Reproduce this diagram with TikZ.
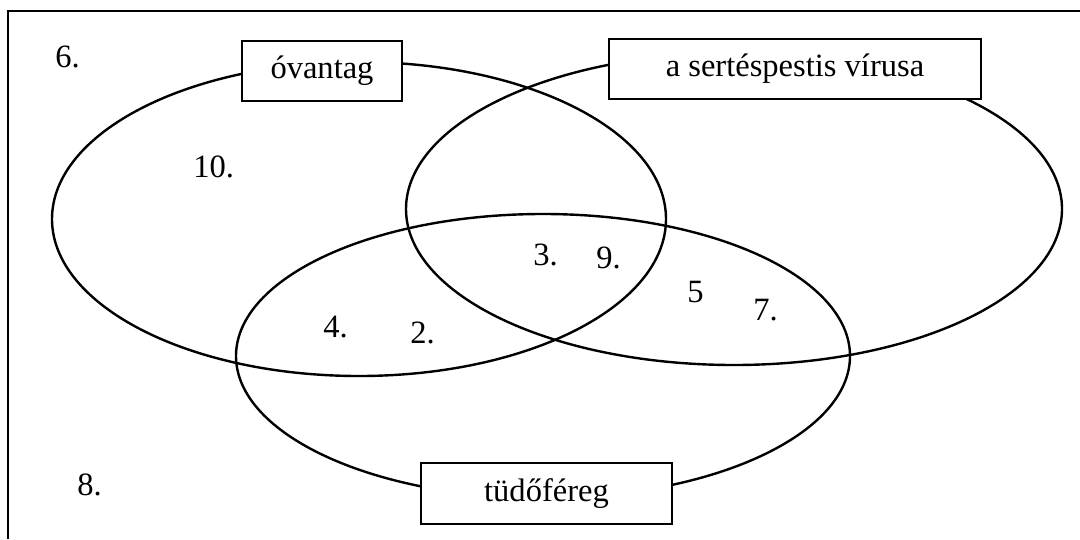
\documentclass[tikz,border=0pt]{standalone}
\usepackage{fontspec}
\setmainfont{Liberation Serif}
\begin{document}
\begin{tikzpicture}[x=0.75pt,y=-0.75pt,
		setline/.style={line width=1.8pt},
		namebox/.style={draw,line width=1.6pt,fill=white,inner sep=0pt,
			font=\fontsize{24.4}{29}\selectfont},
		num/.style={inner sep=0pt,anchor=base west,
			font=\fontsize{24.4}{29}\selectfont}]
			\useasboundingbox (0,0) rectangle (1080,539);
			% frame, cut at right and bottom
			\draw[line width=1.9pt] (8,539) -- (8,11) -- (1080,11);
			% the three sets
			\draw[setline] (359,219) ellipse [x radius=307, y radius=157];
			\draw[setline] (734,209) ellipse [x radius=328, y radius=156];
			\draw[setline] (543,356) ellipse [x radius=307, y radius=142];
			% set names (sizes in pt: 0.75pt per px)
			\node[namebox,minimum width=120pt,minimum height=45pt] (ovantag) at (322,71) {óvantag};
			\node[namebox,minimum width=279pt,minimum height=45pt] (virus) at (795,69) {a sertéspestis vírusa};
			\node[namebox,minimum width=188pt,minimum height=46pt] (tudofereg) at (546.5,493.5) {tüdőféreg};
			% numbers
			\node[num] (n6) at (55,67) {6.};
			\node[num] (n10) at (193,177) {10.};
			\node[num] (n3) at (533,265) {3.};
			\node[num] (n9) at (596,268) {9.};
			\node[num] (n5) at (687,302) {5};
			\node[num] (n7) at (753,320) {7.};
			\node[num] (n4) at (323,337) {4.};
			\node[num] (n2) at (410,343) {2.};
			\node[num] (n8) at (77,495) {8.};
		\end{tikzpicture}
\end{document}
